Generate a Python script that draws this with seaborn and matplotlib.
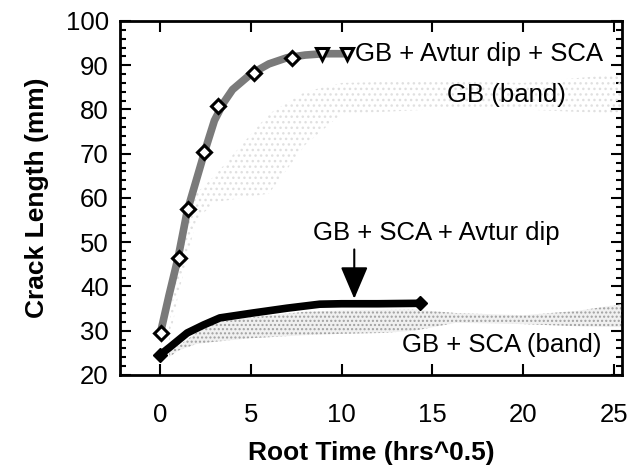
import matplotlib
matplotlib.use('Agg')
import matplotlib.pyplot as plt
import pandas as pd
import seaborn as sns
from matplotlib.ticker import MultipleLocator

# GB + Avtur dip + SCA (open diamonds, then open triangles at the end)
avtur_x = [0.05, 1.05, 1.55, 2.4, 3.2, 5.2, 7.25]
avtur_y = [29.5, 46.5, 57.5, 70.3, 80.7, 88.3, 91.7]
avtur_tri_x = [8.9, 10.3]
avtur_tri_y = [92.6, 92.6]
# gray band traced along that curve
trace_x = [0.0, 0.5, 1.0, 1.5, 2.0, 2.5, 3.0, 3.5, 4.0, 5.0, 6.0, 7.0, 8.0, 9.0, 10.3]
trace_y = [29.0, 38.0, 46.5, 57.0, 64.0, 71.0, 77.5, 81.5, 84.5, 88.0, 90.3, 91.7, 92.3, 92.6, 92.6]

# GB + SCA + Avtur dip (thick black line)
sca_x = [0.0, 0.55, 1.5, 2.4, 3.3, 5.1, 7.0, 8.8, 10.0, 12.0, 14.3]
sca_y = [24.5, 26.3, 29.5, 31.3, 32.9, 34.0, 35.1, 36.0, 36.1, 36.1, 36.2]

# GB (band)
gb_x = [0.5, 1.0, 2.0, 3.0, 6.0, 8.0, 10.0, 15.0, 20.0, 25.4]
gb_lo = [27.0, 38.0, 55.0, 59.0, 61.0, 72.0, 79.0, 80.0, 80.0, 79.0]
gb_hi = [31.0, 47.0, 61.0, 65.0, 79.0, 84.0, 86.0, 86.5, 86.0, 88.0]

# GB + SCA (band)
band_x = [0.5, 1.0, 2.0, 3.0, 5.0, 8.0, 10.0, 12.3, 14.0, 16.3, 20.0, 23.0, 25.4]
band_lo = [24.0, 25.5, 27.0, 27.5, 28.3, 29.0, 29.3, 29.5, 30.0, 31.8, 31.5, 31.0, 30.8]
band_hi = [25.0, 26.5, 29.5, 31.8, 33.0, 34.3, 34.6, 34.7, 34.8, 34.0, 33.5, 34.5, 36.0]

sns.set_style('ticks')
plt.rcParams['font.family'] = ['Liberation Sans', 'DejaVu Sans']
plt.rcParams['text.color'] = 'black'
plt.rcParams['axes.labelcolor'] = 'black'
plt.rcParams['xtick.color'] = 'black'
plt.rcParams['ytick.color'] = 'black'

fig = plt.figure(figsize=(6.43, 4.66), dpi=100)
ax = fig.add_axes([0.1866, 0.1953, 0.7807, 0.7597])

# bands
ax.fill_between(gb_x, gb_lo, gb_hi, facecolor='none', edgecolor='#e0e0e0',
                hatch='...', linewidth=0, zorder=1)
ax.fill_between(band_x, band_lo, band_hi, facecolor='#f0f0f0', edgecolor='#a0a0a0',
                hatch='....', linewidth=0, zorder=1)

# gray trace along the Avtur curve
sns.lineplot(x=trace_x, y=trace_y, ax=ax, color='#7a7a7a', linewidth=5.5,
             sort=False, zorder=2)
sns.lineplot(x=[avtur_x[-1]] + avtur_tri_x, y=[avtur_y[-1]] + avtur_tri_y, ax=ax,
             color='#7a7a7a', linewidth=3, sort=False, zorder=2)
ax.plot(avtur_x, avtur_y, linestyle='none', marker='D', markersize=7,
        markerfacecolor='white', markeredgecolor='black', markeredgewidth=2.2, zorder=4)
ax.plot(avtur_tri_x, avtur_tri_y, linestyle='none', marker='v', markersize=9,
        markerfacecolor='white', markeredgecolor='black', markeredgewidth=2.2, zorder=4)

# thick black line
sns.lineplot(x=sca_x, y=sca_y, ax=ax, color='black', linewidth=5.5, sort=False, zorder=3)
ax.plot([sca_x[0], sca_x[-1]], [sca_y[0], sca_y[-1]], linestyle='none', marker='D',
        markersize=7.5, color='black', zorder=3)

# annotations
fs = 18.5
ax.text(10.75, 92.6, 'GB + Avtur dip + SCA', fontsize=fs, va='center', ha='left', zorder=5)
ax.text(19.1, 83.3, 'GB (band)', fontsize=fs, va='center', ha='center', zorder=5)
ax.text(15.2, 52.1, 'GB + SCA + Avtur dip', fontsize=fs, va='center', ha='center', zorder=5)
ax.text(18.8, 26.8, 'GB + SCA (band)', fontsize=fs, va='center', ha='center', zorder=5)
ax.annotate('', xy=(10.7, 36.6), xytext=(10.7, 49.0),
            arrowprops=dict(arrowstyle='-|>,head_length=2.0,head_width=0.85',
                            mutation_scale=10, color='black', lw=1.5), zorder=5)

ax.set_xlim(-2.2, 25.44)
ax.set_ylim(20, 100)
ax.xaxis.set_major_locator(MultipleLocator(5))
ax.yaxis.set_major_locator(MultipleLocator(10))
ax.yaxis.set_minor_locator(MultipleLocator(2))
ax.tick_params(which='both', direction='in', top=True, right=True, width=1.5,
               labelsize=fs, color='black', labelcolor='black')
ax.tick_params(which='major', length=8)
ax.tick_params(which='minor', length=4)
ax.tick_params(axis='y', which='major', pad=8)
ax.tick_params(axis='x', which='major', pad=20)
for sp in ax.spines.values():
    sp.set_linewidth(2)
    sp.set_color('black')

ax.set_xlabel('Root Time (hrs^0.5)', fontsize=19, fontweight='bold', labelpad=10)
ax.set_ylabel('Crack Length (mm)', fontsize=19, fontweight='bold', labelpad=12)

fig.savefig('out.png', dpi=100)
